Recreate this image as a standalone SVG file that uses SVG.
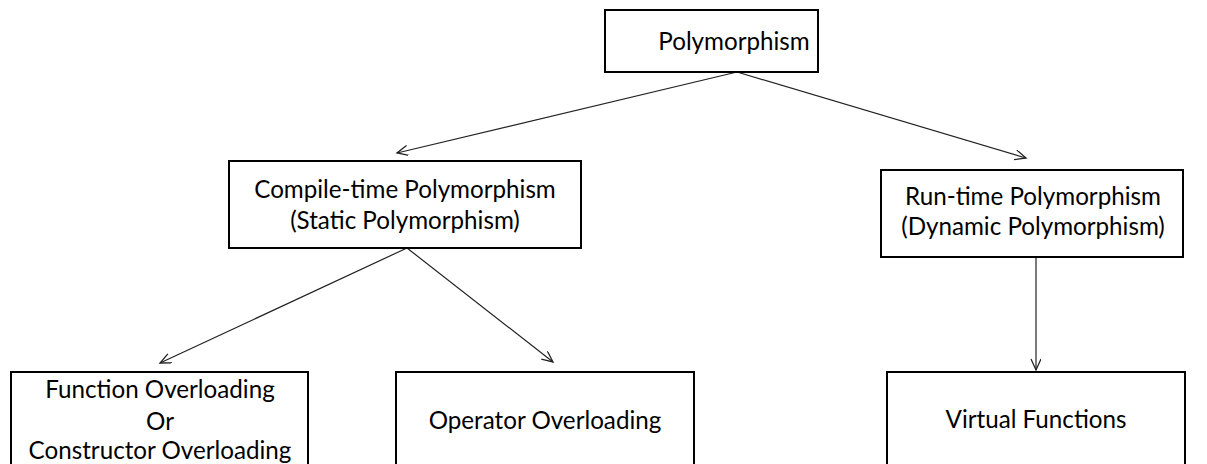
<svg xmlns="http://www.w3.org/2000/svg" width="1207" height="464" viewBox="0 0 1207 464">
<style>
.box{fill:#fff;stroke:#000;stroke-width:2}
.lbl{font-family:Lato,"Open Sans","Liberation Sans",sans-serif;font-size:24.2px;fill:#000;text-anchor:middle}
.con{stroke:#222;stroke-width:1.2;fill:none;marker-end:url(#arr)}
</style>
<defs>
<marker id="arr" markerUnits="userSpaceOnUse" markerWidth="14" markerHeight="12" refX="12" refY="5" orient="auto">
<path d="M1,0 L12,5 L1,10" fill="none" stroke="#222" stroke-width="1.3"/>
</marker>
</defs>
<rect width="1207" height="464" fill="#fff"/>
<g id="connectors">
<line class="con" x1="737" y1="72" x2="397" y2="153"/>
<line class="con" x1="737" y1="72" x2="1026" y2="158"/>
<line class="con" x1="407" y1="248" x2="160" y2="363"/>
<line class="con" x1="407" y1="248" x2="553" y2="362"/>
<line class="con" x1="1036" y1="257" x2="1036" y2="370"/>
</g>
<g id="polymorphism">
<rect class="box" x="605" y="10" width="213" height="62"/>
<text class="lbl" x="734" y="50">Polymorphism</text>
</g>
<g id="compile-time">
<rect class="box" x="229" y="161" width="352" height="87"/>
<text class="lbl" x="405" y="198">Compile-time Polymorphism</text>
<text class="lbl" x="405" y="229">(Static Polymorphism)</text>
</g>
<g id="run-time">
<rect class="box" x="881" y="170" width="302" height="87"/>
<text class="lbl" x="1033" y="205">Run-time Polymorphism</text>
<text class="lbl" x="1033" y="235">(Dynamic Polymorphism)</text>
</g>
<g id="function-overloading">
<rect class="box" x="11" y="372" width="297" height="110"/>
<text class="lbl" x="160" y="398">Function Overloading</text>
<text class="lbl" x="160" y="430">Or</text>
<text class="lbl" x="160" y="459">Constructor Overloading</text>
</g>
<g id="operator-overloading">
<rect class="box" x="396" y="372" width="298" height="110"/>
<text class="lbl" x="545" y="429">Operator Overloading</text>
</g>
<g id="virtual-functions">
<rect class="box" x="887" y="372" width="298" height="110"/>
<text class="lbl" x="1036" y="428">Virtual Functions</text>
</g>
</svg>
